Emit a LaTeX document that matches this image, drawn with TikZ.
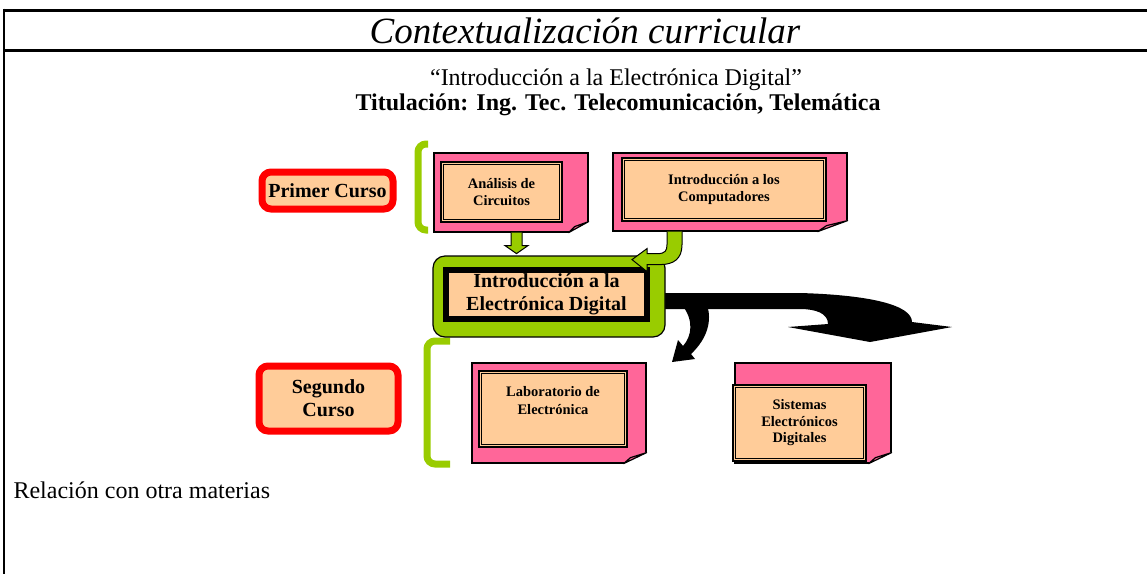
\documentclass[tikz,border=0pt]{standalone}
\usepackage{fontspec}
\setmainfont{Liberation Serif}
\usetikzlibrary{calc}
\definecolor{notepink}{HTML}{FF6699}
\definecolor{peach}{HTML}{FFCC99}
\definecolor{lime}{HTML}{99CC00}
% folded corner of a note page: node name, fold width
\newcommand{\pagefold}[2]{%
  \fill[white] ($(#1.south east)+(-#2-1,1)$) -- ($(#1.south east)+(1,1)$) -- ($(#1.south east)+(1,-12)$) -- cycle;
  \draw[line width=1.2pt, fill=notepink, line join=round] ($(#1.south east)+(-#2,0)$) -- ($(#1.south east)+(0,-11)$) -- ($(#1.south east)+(-0.7*#2,-6)$) -- cycle;
}
\begin{document}
\begin{tikzpicture}[x=1pt,y=-1pt,
    cursobox/.style={draw=red, line width=7pt, fill=peach, rounded corners=9pt, align=center,
      inner sep=0pt, font=\bfseries\fontsize{20}{23}\selectfont},
    page/.style={draw=black, line width=1.2pt, fill=notepink, inner sep=0pt},
    framebox/.style={draw=black, line width=1.5pt, double=peach, double distance=1.2pt, fill=peach,
      align=center, inner sep=0pt, font=\bfseries\fontsize{14.5}{17}\selectfont},
    bracket/.style={draw=lime, line width=7pt, rounded corners=8pt},
    greenarrow/.style={draw=black, line width=1pt, fill=lime, line join=miter},
    blackarrow/.style={fill=black}]
  \useasboundingbox (0,0) rectangle (1147,574);
  % table lines
  \draw[line width=3pt] (4,10) -- (1147,10);
  \draw[line width=3pt] (4,50) -- (1147,50);
  \draw[line width=2.5pt] (4,8.5) -- (4,574);
  % headings
  \node[font=\itshape\fontsize{37}{40}\selectfont] (title) at (585,31) {Contextualización curricular};
  \node[font=\fontsize{24}{26}\selectfont] (subject) at (616,80) {“Introducción a la Electrónica Digital”};
  \node[font=\bfseries\fontsize{24}{26}\selectfont] (degree) at (618,105) {Titulación: Ing. Tec. Telecomunicación, Telemática};
  % courses
  \node[cursobox, minimum width=131pt, minimum height=37pt] (primer) at (327.5,190.5) {Primer Curso};
  \node[cursobox, minimum width=139pt, minimum height=65pt] (segundo) at (328.5,398.5) {Segundo\\Curso};
  \draw[bracket] (428,144) -- (418,144) -- (418,230) -- (428,230);
  \draw[bracket] (450,341) -- (427,341) -- (427,464) -- (450,464);
  % first year subjects
  \node[page, minimum width=154pt, minimum height=79pt] (anapage) at (511,192.5) {};
  \pagefold{anapage}{20}
  \node[framebox, minimum width=118.6pt, minimum height=57.6pt] (ana) at (501.5,192) {Análisis de\\Circuitos};
  \node[page, minimum width=234pt, minimum height=78pt] (compage) at (730,192) {};
  \pagefold{compage}{30}
  \node[framebox, minimum width=201.6pt, minimum height=60.6pt] (comp) at (724,189.5) {Introducción a los\\Computadores};
  % arrows to second year
  \begin{scope}[shift={(665,296.5)}]
    \fill[blackarrow] (-5,-3.5) -- (135,-3.5) .. controls (205,-1.5) and (247,8.5) .. (247,25.5)
      -- (287,30.5) -- (205,45.5) -- (123,30.5) -- (163,27.5)
      .. controls (163,16.5) and (150,12.5) .. (135,12.5) -- (-5,12.5) -- cycle;
    \fill[blackarrow] (17,8.5) .. controls (29,23.5) and (27,39.5) .. (18,49.5) -- (13,43.5)
      -- (7,65.5) -- (30,62.5) -- (26,57.5) .. controls (43,41.5) and (47,23.5) .. (42,8.5) -- cycle;
  \end{scope}
  % this subject
  \node[draw=black, line width=1.2pt, fill=lime, rounded corners=12pt, minimum width=232pt,
    minimum height=81pt, inner sep=0pt] (cenouter) at (549,296.5) {};
  \node[draw=black, line width=6pt, fill=peach, minimum width=201pt, minimum height=49pt, inner sep=0pt,
    align=center, font=\bfseries\fontsize{20}{23}\selectfont] (cen) at (546.5,294.5) {Introducción a la\\Electrónica Digital};
  % arrows from first year
  \begin{scope}[shift={(anapage.south)}]
    \draw[greenarrow] (0,0) -- (0,13) -- (-6,13) -- (5.5,21) -- (17,13) -- (11,13) -- (11,0);
  \end{scope}
  \begin{scope}[shift={(compage.south)}]
    \draw[greenarrow] (-48,0) -- (-48,13) .. controls (-48,27) and (-56,33) .. (-70,33) -- (-83,33)
      -- (-83,40) -- (-98,28) -- (-83,17) -- (-83,22) -- (-72,22)
      .. controls (-65,22) and (-63,19) .. (-63,13) -- (-63,0);
  \end{scope}
  % second year subjects
  \node[page, minimum width=174pt, minimum height=100pt] (labpage) at (559,413) {};
  \pagefold{labpage}{23}
  \node[framebox, minimum width=145.6pt, minimum height=73.6pt] (labframe) at (553,409) {};
  \node[font=\bfseries\fontsize{14.5}{18}\selectfont, align=center] (lab) at (553,401) {Laboratorio de\\Electrónica};
  \node[page, minimum width=156pt, minimum height=100pt] (sedpage) at (813,413) {};
  \pagefold{sedpage}{23}
  \node[framebox, minimum width=130.6pt, minimum height=73.6pt, font=\bfseries\fontsize{14.5}{16.5}\selectfont]
    (sed) at (799.5,423) {Sistemas\\Electrónicos\\Digitales};
  \node[anchor=west, font=\fontsize{24}{26}\selectfont] (relacion) at (10,490) {Relación con otra materias};
\end{tikzpicture}
\end{document}
